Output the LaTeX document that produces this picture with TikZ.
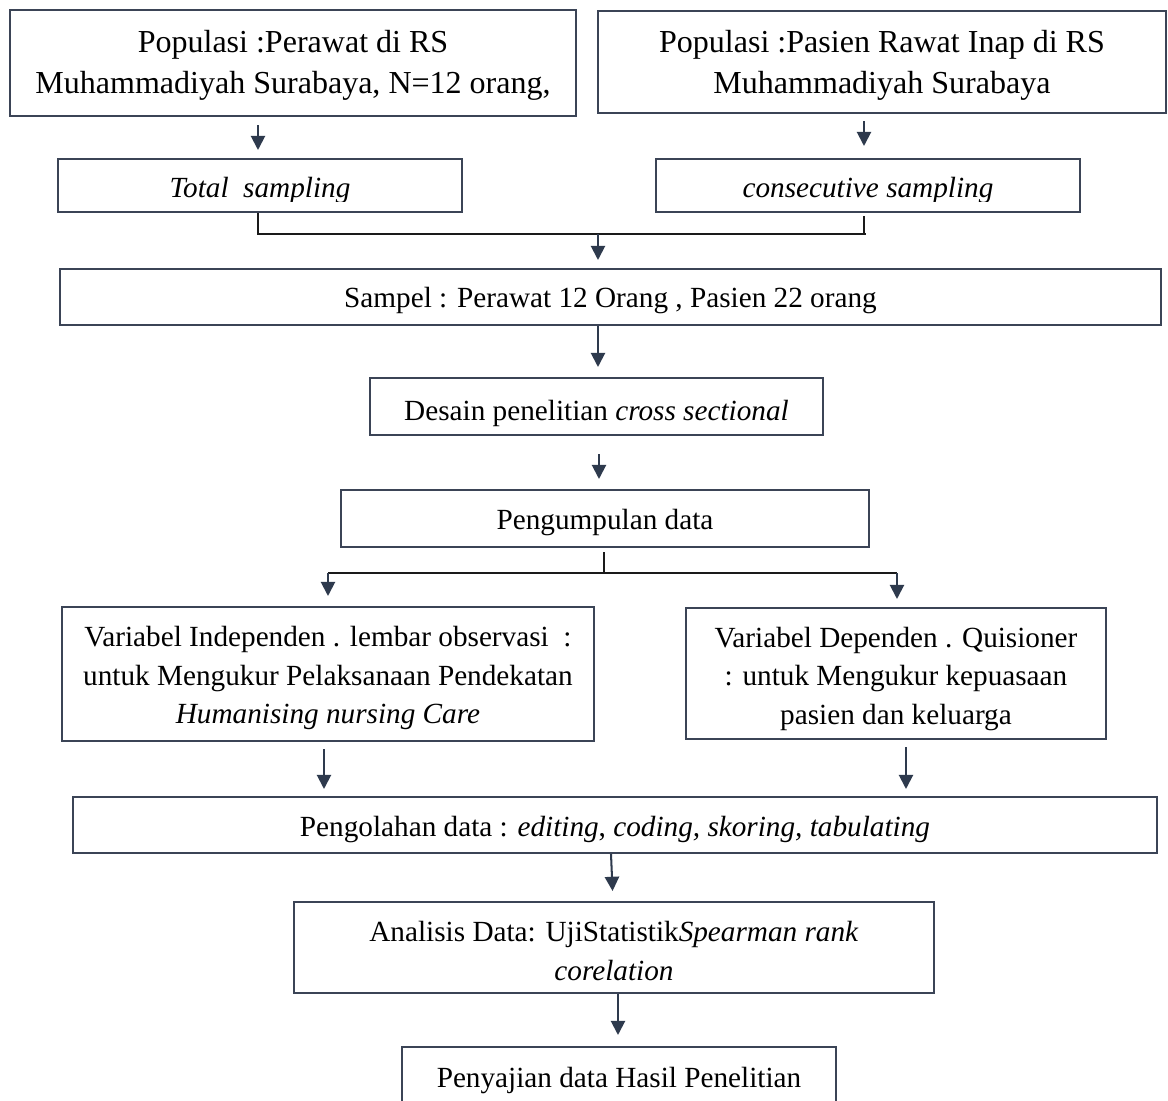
\documentclass[tikz,border=0pt]{standalone}
\usepackage{fontspec}
\setmainfont{Liberation Serif}
\usetikzlibrary{arrows.meta,calc}
\def\pxu{0.3934pt}
\definecolor{boxcol}{HTML}{3B4456}
\definecolor{arrcol}{HTML}{2E3A4D}
\definecolor{lncol}{HTML}{1A1A1A}
\tikzset{
  bx/.style={draw=boxcol, line width=0.8pt, inner sep=0pt},
  tx/.style={inner sep=0pt, align=center, text=black, font=\fontsize{11.5}{15.3}\selectfont},
  txbig/.style={tx, font=\fontsize{12.6}{16.1}\selectfont},
  arr/.style={draw=arrcol, line width=0.8pt, -{Triangle[width=5.6pt,length=5.6pt]}},
  ln/.style={draw=lncol, line width=0.6pt}
}
\begin{document}
\begin{tikzpicture}[x=0.3934pt,y=-0.3934pt]
\clip (0,0) rectangle (1168,1101);
\fill[white] (0,0) rectangle (1168,1101);

% boxes
\node[bx, minimum width=566*\pxu, minimum height=106*\pxu] (pop1) at (293,63) {};
\node[bx, minimum width=568*\pxu, minimum height=102*\pxu] (pop2) at (882,62) {};
\node[bx, minimum width=404*\pxu, minimum height=53*\pxu] (ts) at (260,185.5) {};
\node[bx, minimum width=424*\pxu, minimum height=53*\pxu] (cs) at (868,185.5) {};
\node[bx, minimum width=1101*\pxu, minimum height=56*\pxu] (sa) at (610.5,297) {};
\node[bx, minimum width=453*\pxu, minimum height=57*\pxu] (de) at (596.5,406.5) {};
\node[bx, minimum width=528*\pxu, minimum height=57*\pxu] (pg) at (605,518.5) {};
\node[bx, minimum width=532*\pxu, minimum height=134*\pxu] (vi) at (328,674) {};
\node[bx, minimum width=420*\pxu, minimum height=131*\pxu] (vd) at (896,673.5) {};
\node[bx, minimum width=1084*\pxu, minimum height=56*\pxu] (po) at (615,825) {};
\node[bx, minimum width=640*\pxu, minimum height=91*\pxu] (an) at (614,947.5) {};
\node[bx, minimum width=434*\pxu, minimum height=59*\pxu] (pe) at (619,1076.5) {};

% texts
\node[txbig] (pop1t) at ([yshift=-2*\pxu]pop1.center)
  {Populasi :Perawat di RS\\Muhammadiyah Surabaya, N=12 orang,};
\node[txbig] (pop2t) at ([yshift=-3.5*\pxu]pop2.center)
  {Populasi :Pasien Rawat Inap di RS\\Muhammadiyah Surabaya};
\begin{scope}
  \clip (40,160) rectangle (1100,201);
  \node[tx, anchor=base] (tst) at (260,197) {\textit{Total\ \ sampling}};
  \node[tx, anchor=base] (cst) at (868,197) {\textit{consecutive sampling}};
\end{scope}
\node[tx] (sat) at ([yshift=-4*\pxu]sa.center)
  {Sampel : Perawat 12 Orang , Pasien 22 orang};
\node[tx] (det) at ([yshift=-7*\pxu]de.center)
  {Desain penelitian \textit{cross sectional}};
\node[tx] (pgt) at ([yshift=-4*\pxu]pg.center) {Pengumpulan data};
\node[tx] (vit) at ([yshift=-4*\pxu]vi.center)
  {Variabel Independen . lembar observasi\ \ :\\untuk Mengukur Pelaksanaan Pendekatan\\\textit{Humanising nursing Care}};
\node[tx] (vdt) at ([yshift=-5.5*\pxu]vd.center)
  {Variabel Dependen . Quisioner\\: untuk Mengukur kepuasaan\\pasien dan keluarga};
\node[tx] (pot) at ([yshift=-5*\pxu]po.center)
  {Pengolahan data : \textit{editing}, \textit{coding, skoring, tabulating}};
\node[tx] (ant) at ([yshift=-3.5*\pxu]an.center)
  {Analisis Data: UjiStatistik\textit{Spearman rank}\\\textit{corelation}};
\node[tx] (pet) at ([yshift=-4*\pxu]pe.center) {Penyajian data Hasil Penelitian};

% top arrows
\draw[arr, shorten <=8*\pxu, shorten >=8*\pxu] ([xshift=-2*\pxu]pop1.south -| ts.north) -- ([xshift=-2*\pxu]ts.north);
\draw[arr, shorten <=7*\pxu, shorten >=12*\pxu] ([xshift=-4*\pxu]pop2.south -| cs.north) -- ([xshift=-4*\pxu]cs.north);

% merge
\coordinate (m) at (598,234);
\draw[ln] ([xshift=-2*\pxu]ts.south) |- ([xshift=-2*\pxu]cs.south |- m);
\draw[ln] ([xshift=-4*\pxu, yshift=-3*\pxu]cs.south) -- ([xshift=-4*\pxu]cs.south |- m);
\draw[arr, shorten >=8*\pxu] (m) -- (m |- sa.north);

\draw[arr, shorten >=10*\pxu] ([xshift=-12.5*\pxu]sa.south) -- ([xshift=1.5*\pxu]de.north);
\draw[arr, shorten <=18*\pxu, shorten >=10*\pxu] ([xshift=2.5*\pxu]de.south) -- ([xshift=-6*\pxu]pg.north);

% split
\coordinate (s) at (604,573);
\draw[ln] ([xshift=-1*\pxu, yshift=-4*\pxu]pg.south) -- (s);
\draw[ln] (vi.north |- s) -- ([xshift=1*\pxu]vd.north |- s);
\draw[arr, shorten >=10*\pxu] (vi.north |- s) -- (vi.north);
\draw[arr, shorten >=8*\pxu] ([xshift=1*\pxu]vd.north |- s) -- ([xshift=1*\pxu]vd.north);

% bottom
\draw[arr, shorten <=7*\pxu, shorten >=7*\pxu] ([xshift=-4*\pxu]vi.south) -- ([xshift=-4*\pxu]vi.south |- po.north);
\draw[arr, shorten <=7*\pxu, shorten >=7*\pxu] ([xshift=10*\pxu]vd.south) -- ([xshift=10*\pxu]vd.south |- po.north);
\draw[arr, shorten >=10*\pxu] ([xshift=-4*\pxu]po.south) -- ([xshift=-1*\pxu]an.north);
\draw[arr, shorten >=11*\pxu] ([xshift=4*\pxu]an.south) -- ([xshift=-1*\pxu]pe.north);
\end{tikzpicture}
\end{document}
